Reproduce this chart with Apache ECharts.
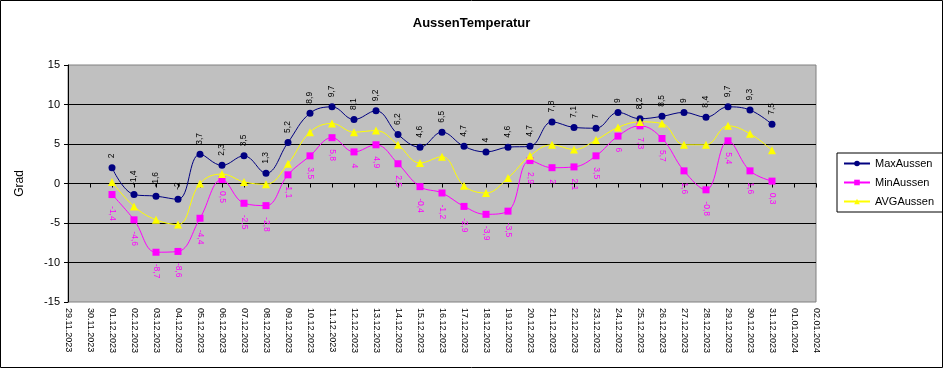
<!DOCTYPE html>
<html>
<head>
<meta charset="utf-8">
<script src="https://cdn.jsdelivr.net/npm/echarts@6/dist/echarts.min.js"></script>
<style>
html,body{margin:0;padding:0;background:#fff;}
#chart{width:943px;height:368px;}
</style>
</head>
<body>
<div id="chart"></div>
<script>
const categories = ["29.11.2023","30.11.2023","01.12.2023","02.12.2023","03.12.2023","04.12.2023","05.12.2023","06.12.2023","07.12.2023","08.12.2023","09.12.2023","10.12.2023","11.12.2023","12.12.2023","13.12.2023","14.12.2023","15.12.2023","16.12.2023","17.12.2023","18.12.2023","19.12.2023","20.12.2023","21.12.2023","22.12.2023","23.12.2023","24.12.2023","25.12.2023","26.12.2023","27.12.2023","28.12.2023","29.12.2023","30.12.2023","31.12.2023","01.01.2024","02.01.2024"];
const maxAussen = [null,null,2,-1.4,-1.6,-2,3.7,2.3,3.5,1.3,5.2,8.9,9.7,8.1,9.2,6.2,4.6,6.5,4.7,4,4.6,4.7,7.8,7.1,7,9,8.2,8.5,9,8.4,9.7,9.3,7.5,null,null];
const minAussen = [null,null,-1.4,-4.6,-8.7,-8.6,-4.4,0.5,-2.5,-2.8,1.1,3.5,5.8,4,4.9,2.5,-0.4,-1.2,-2.9,-3.9,-3.5,2.9,2,2.1,3.5,6,7.3,5.7,1.6,-0.8,5.4,1.6,0.3,null,null];
const avgAussen = [null,null,0.2,-2.9,-4.6,-5.2,0,1.2,0.2,-0.1,2.5,6.5,7.6,6.5,6.7,4.9,2.6,3.4,-0.3,-1.2,0.7,3.5,4.9,4.3,5.5,7.1,7.8,7.6,4.9,4.9,7.3,6.3,4.2,null,null];
const yTicks = [-15,-10,-5,0,5,10,15];

const FONT = '"Liberation Sans", Arial, sans-serif';
const fmt = p => String(p.value).replace('.', ',');

const chart = echarts.init(document.getElementById('chart'), null, {renderer:'canvas'});
chart.setOption({
  animation: false,
  backgroundColor: '#ffffff',
  textStyle: {fontFamily: FONT},
  graphic: [{
    type: 'rect', silent: true, z: 100,
    shape: {x: 0.5, y: 0.5, width: 942, height: 367},
    style: {fill: 'none', stroke: '#000', lineWidth: 1}
  }],
  title: {
    text: 'AussenTemperatur', left: 'center', top: 12,
    textStyle: {fontFamily: FONT, fontSize: 13, fontWeight: 'bold', color: '#000'}
  },
  legend: {
    orient: 'vertical', left: 837, top: 153,
    padding: [5, 10, 5, 6], itemGap: 8,
    itemWidth: 26, itemHeight: 7,
    borderColor: '#000', borderWidth: 1, backgroundColor: '#fff',
    textStyle: {fontFamily: FONT, fontSize: 11, color: '#000'},
    data: ['MaxAussen','MinAussen','AVGAussen']
  },
  grid: {
    left: 68, right: 127, top: 65, bottom: 66,
    show: true, backgroundColor: '#c0c0c0', borderColor: '#808080', borderWidth: 1
  },
  xAxis: [{
    type: 'category', data: categories, boundaryGap: false, position: 'bottom',
    axisLine: {show: false, onZero: false},
    axisTick: {show: false},
    axisLabel: {rotate: -90, interval: 0, fontSize: 9, color: '#000', margin: 6, fontFamily: FONT},
    splitLine: {show: false}
  },{
    type: 'category', data: categories, boundaryGap: false, position: 'bottom',
    axisLine: {show: true, onZero: true, lineStyle: {color: '#000', width: 1}},
    axisTick: {show: true, length: 4, inside: false, alignWithLabel: true, lineStyle: {color: '#000'}, interval: 0},
    axisLabel: {show: false},
    splitLine: {show: false}
  }],
  yAxis: {
    type: 'value', min: -15, max: 15, interval: 5,
    name: 'Grad', nameLocation: 'middle', nameGap: 42,
    nameTextStyle: {fontFamily: FONT, fontSize: 12, color: '#000'},
    axisLine: {show: true, lineStyle: {color: '#000', width: 1}},
    axisTick: {show: true, length: 4, lineStyle: {color: '#000'}},
    axisLabel: {fontSize: 11, color: '#000', margin: 8, fontFamily: FONT},
    splitLine: {show: true, showMinLine: false, showMaxLine: false, lineStyle: {color: '#000', width: 1}}
  },
  series: [{
    name: 'MaxAussen', type: 'line', data: maxAussen, smooth: 0.4,
    symbol: 'circle', symbolSize: 7,
    itemStyle: {color: '#000080'},
    lineStyle: {color: '#000080', width: 1},
    label: {show: true, position: 'top', distance: 6, rotate: 90, align: 'left', verticalAlign: 'middle',
            fontSize: 8.5, color: '#000', fontFamily: FONT, formatter: fmt}
  },{
    name: 'MinAussen', type: 'line', data: minAussen, smooth: 0.4,
    symbol: 'rect', symbolSize: 7,
    itemStyle: {color: '#ff00ff'},
    lineStyle: {color: '#ff00ff', width: 1},
    label: {show: true, position: 'bottom', distance: 8, rotate: -90, align: 'left', verticalAlign: 'middle',
            fontSize: 8.5, color: '#ff00ff', fontFamily: FONT, formatter: fmt}
  },{
    name: 'AVGAussen', type: 'line', data: avgAussen, smooth: 0.4,
    symbol: 'triangle', symbolSize: 8,
    itemStyle: {color: '#ffff00'},
    lineStyle: {color: '#ffff00', width: 1}
  }]
});
</script>
</body>
</html>
